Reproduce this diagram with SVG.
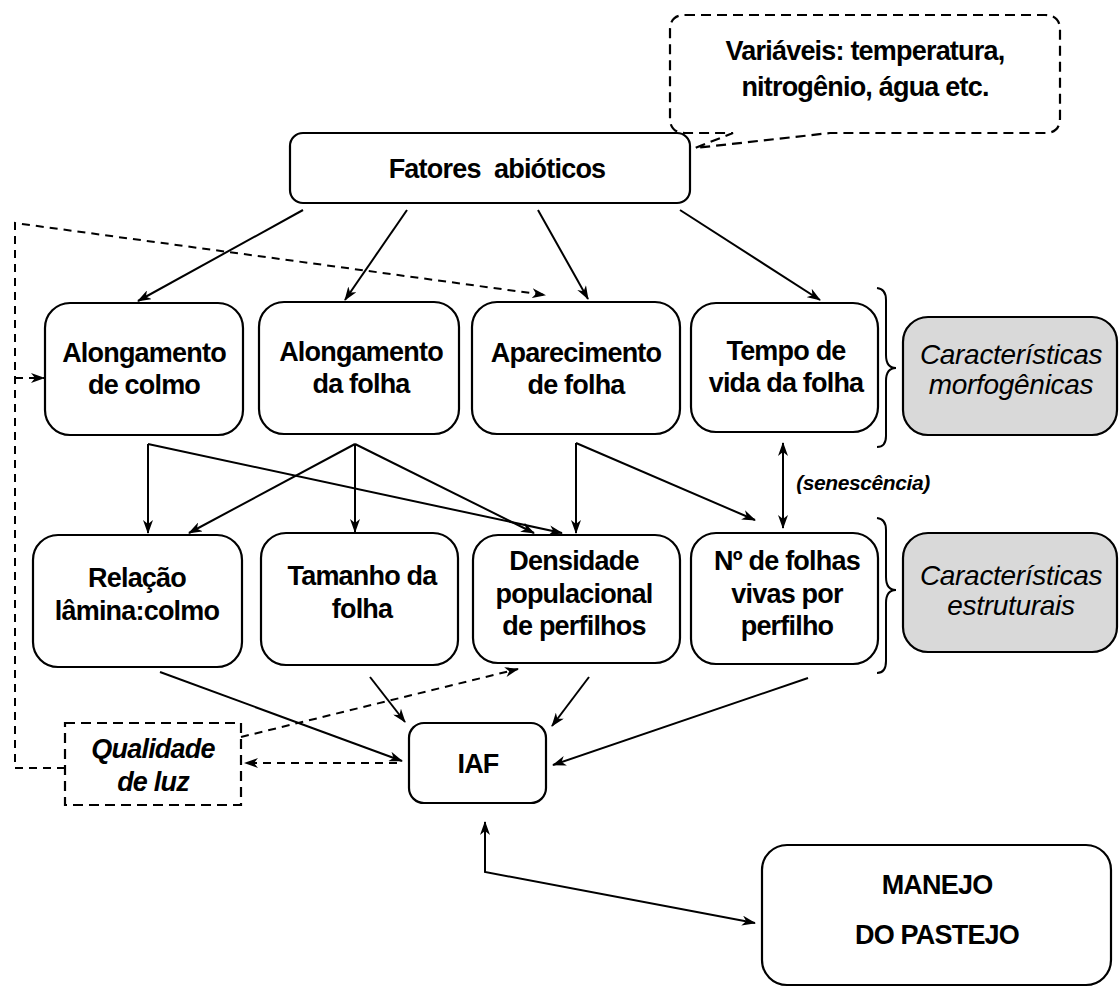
<svg xmlns="http://www.w3.org/2000/svg" width="1119" height="988" viewBox="0 0 1119 988">
<defs>
<style>
.box{fill:#fff;stroke:#000;stroke-width:2.2}
.grey{fill:#d9d9d9;stroke:#000;stroke-width:2.2}
.dbox{fill:#fff;stroke:#000;stroke-width:2.2;stroke-dasharray:10,6}
.t{font-family:"Liberation Sans",Arial,sans-serif;font-weight:bold;font-size:27px;text-anchor:middle;fill:#000;letter-spacing:-0.8px}
.ti{font-family:"Liberation Sans",Arial,sans-serif;font-style:italic;font-size:28px;text-anchor:middle;fill:#000;letter-spacing:-0.3px}
.tbi{font-family:"Liberation Sans",Arial,sans-serif;font-style:italic;font-weight:bold;text-anchor:middle;fill:#000}
.ln{fill:none;stroke:#000;stroke-width:2}
.dl{fill:none;stroke:#000;stroke-width:2;stroke-dasharray:8,6}
</style>
<marker id="ah" viewBox="0 0 14 10" refX="13" refY="5" markerWidth="14" markerHeight="10" markerUnits="userSpaceOnUse" orient="auto-start-reverse">
<path d="M0,0 L14,5 L0,10 L4,5 z" fill="#000"/>
</marker>
</defs>

<g id="callout">
<path class="dbox" d="M685,15 H1045 Q1060,15 1060,30 V118 Q1060,133 1045,133 H830 L695,148 L733,133 H685 Q670,133 670,118 V30 Q670,15 685,15 Z"/>
<text class="t" x="865" y="60">Variáveis: temperatura,</text>
<text class="t" x="865" y="96">nitrogênio, água etc.</text>
</g>

<g id="fatores">
<rect class="box" x="290" y="133" width="400" height="70" rx="13"/>
<text class="t" x="497" y="178" xml:space="preserve">Fatores  abióticos</text>
</g>

<g id="along-colmo">
<rect class="box" x="45" y="303" width="198" height="132" rx="25"/>
<text class="t" x="144" y="362">Alongamento</text>
<text class="t" x="144" y="394">de colmo</text>
</g>
<g id="along-folha">
<rect class="box" x="259" y="302" width="200" height="132" rx="25"/>
<text class="t" x="361" y="361">Alongamento</text>
<text class="t" x="361" y="393">da folha</text>
</g>
<g id="aparecimento">
<rect class="box" x="472" y="302" width="208" height="132" rx="25"/>
<text class="t" x="576" y="362">Aparecimento</text>
<text class="t" x="576" y="394">de folha</text>
</g>
<g id="tempo-vida">
<rect class="box" x="691" y="303" width="187" height="129" rx="25"/>
<text class="t" x="786" y="360">Tempo de</text>
<text class="t" x="786" y="392">vida da folha</text>
</g>

<g id="relacao">
<rect class="box" x="33" y="535" width="209" height="132" rx="25"/>
<text class="t" x="137" y="587">Relação</text>
<text class="t" x="137" y="620">lâmina:colmo</text>
</g>
<g id="tamanho">
<rect class="box" x="261" y="533" width="197" height="132" rx="25"/>
<text class="t" x="362" y="585">Tamanho da</text>
<text class="t" x="362" y="618">folha</text>
</g>
<g id="densidade">
<rect class="box" x="473" y="535" width="207" height="128" rx="25"/>
<text class="t" x="574" y="570">Densidade</text>
<text class="t" x="574" y="603">populacional</text>
<text class="t" x="574" y="635">de perfilhos</text>
</g>
<g id="num-folhas">
<rect class="box" x="691" y="533" width="187" height="131" rx="25"/>
<text class="t" x="787" y="570">Nº de folhas</text>
<text class="t" x="787" y="603">vivas por</text>
<text class="t" x="787" y="635">perfilho</text>
</g>

<g id="morfo">
<rect class="grey" x="903" y="317" width="214" height="118" rx="25"/>
<text class="ti" x="1011" y="364">Características</text>
<text class="ti" x="1011" y="394">morfogênicas</text>
</g>
<g id="estrut">
<rect class="grey" x="903" y="533" width="214" height="119" rx="25"/>
<text class="ti" x="1011" y="585">Características</text>
<text class="ti" x="1011" y="615">estruturais</text>
</g>

<g id="braces">
<path class="ln" d="M877,288 Q886,289 886,300 V355 Q886,368 896,368 Q886,368 886,381 V436 Q886,447 877,447"/>
<path class="ln" d="M877,518 Q886,519 886,530 V577 Q886,590 896,590 Q886,590 886,603 V661 Q886,673 877,673"/>
</g>

<g id="qualidade">
<rect class="dbox" x="65" y="723" width="176" height="82"/>
<text class="tbi" font-size="27" letter-spacing="-0.8" x="153" y="758">Qualidade</text>
<text class="tbi" font-size="27" letter-spacing="-0.8" x="153" y="791">de luz</text>
</g>

<g id="iaf">
<rect class="box" x="409" y="723" width="137" height="80" rx="15"/>
<text class="t" x="478" y="773">IAF</text>
</g>

<g id="manejo">
<rect class="box" x="762" y="845" width="349" height="140" rx="25"/>
<text class="t" font-size="29" letter-spacing="-1" x="937" y="894">MANEJO</text>
<text class="t" font-size="29" letter-spacing="-1" x="937" y="944">DO PASTEJO</text>
</g>

<g id="connectors">
<line class="ln" x1="303" y1="210" x2="138" y2="301" marker-end="url(#ah)"/>
<line class="ln" x1="407" y1="210" x2="345" y2="300" marker-end="url(#ah)"/>
<line class="ln" x1="538" y1="210" x2="588" y2="299" marker-end="url(#ah)"/>
<line class="ln" x1="680" y1="210" x2="820" y2="300" marker-end="url(#ah)"/>

<polyline class="dl" points="65,768 15,768 15,223 545,295" marker-end="url(#ah)"/>
<line class="dl" x1="15" y1="378" x2="44" y2="378" marker-end="url(#ah)"/>

<line class="ln" x1="148" y1="444" x2="148" y2="533" marker-end="url(#ah)"/>
<line class="ln" x1="148" y1="444" x2="562" y2="533" marker-end="url(#ah)"/>
<line class="ln" x1="355" y1="444" x2="189" y2="533" marker-end="url(#ah)"/>
<line class="ln" x1="355" y1="444" x2="355" y2="532" marker-end="url(#ah)"/>
<line class="ln" x1="355" y1="444" x2="534" y2="533" marker-end="url(#ah)"/>
<line class="ln" x1="576" y1="443" x2="576" y2="533" marker-end="url(#ah)"/>
<line class="ln" x1="576" y1="443" x2="755" y2="520" marker-end="url(#ah)"/>

<line class="ln" x1="783" y1="443" x2="783" y2="528" marker-start="url(#ah)" marker-end="url(#ah)"/>
<text class="tbi" font-size="21" letter-spacing="-0.4" x="863" y="490">(senescência)</text>

<line class="ln" x1="160" y1="672" x2="402" y2="761" marker-end="url(#ah)"/>
<line class="ln" x1="370" y1="677" x2="405" y2="722" marker-end="url(#ah)"/>
<line class="ln" x1="589" y1="677" x2="552" y2="726" marker-end="url(#ah)"/>
<line class="ln" x1="808" y1="678" x2="553" y2="765" marker-end="url(#ah)"/>
<line class="dl" x1="397" y1="763" x2="245" y2="763" marker-end="url(#ah)"/>
<line class="dl" x1="241" y1="737" x2="518" y2="669" marker-end="url(#ah)"/>

<polyline class="ln" points="485,822 485,872 755,923" marker-start="url(#ah)" marker-end="url(#ah)"/>
</g>
</svg>
